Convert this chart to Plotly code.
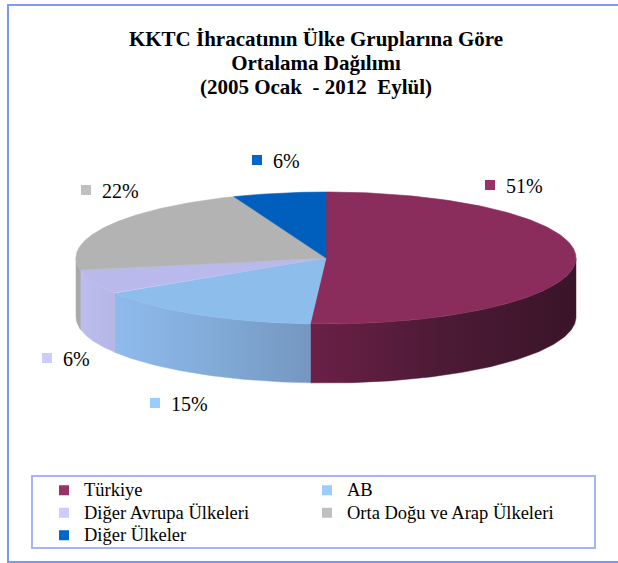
import numpy as np
import plotly.graph_objects as go

# ---------------- data ----------------
categories = ["Türkiye", "AB", "Diğer Avrupa Ülkeleri",
              "Orta Doğu ve Arap Ülkeleri", "Diğer Ülkeler"]
shares = [51, 15, 6, 22, 6]
label_texts = ["51%", "15%", "6%", "22%", "6%"]

# ---------------- style ----------------
key_colors = ["#993366", "#99ccff", "#ccccff", "#c0c0c0", "#0066cc"]
top_colors = ["#8b2d5c", "#8dbdeb", "#b9b9ec", "#b3b3b3", "#005ebd"]
side_colors = [["#6b2047", "#4c1a35", "#3a1429"],
               ["#8ebbec", "#82abd8", "#7497c0"],
               ["#bdbdee", "#babaea", "#b6b6e6"],
               ["#a9a9a9", "#a9a9a9", "#a9a9a9"],
               ["#004a99", "#004a99", "#004a99"]]
# label key positions (pixel space)
label_pos = [(490, 185), (155, 403), (47, 358), (86, 190), (257, 160)]

CX, CY, A, B, DEPTH = 326, 258, 250, 66, 59
W, H = 618, 563
SERIF = "Liberation Serif"


def ell(t_deg, dy=0.0):
    t = np.radians(t_deg)
    return CX + A * np.cos(t), CY - B * np.sin(t) + dy


total = float(sum(shares))
fig = go.Figure()

# legend entries
for cat, col in zip(categories, key_colors):
    fig.add_trace(go.Scatter(x=[None], y=[None], mode="markers",
                             name="<span style='font-size:18.5px'>" + cat + "</span>",
                             marker=dict(symbol="square", size=10, color=col),
                             hoverinfo="skip"))

# slice angles (start at 12 o'clock, clockwise)
angles = []
cum = 0.0
for v in shares:
    t0 = 90 - 360 * cum / total
    t1 = 90 - 360 * (cum + v) / total
    angles.append((t0, t1))
    cum += v

# side faces (front half only)
for i, (t0, t1) in enumerate(angles):
    s0, s1 = min(t0, 0.0), max(t1, -180.0)
    if s0 <= s1:
        continue
    ts = np.linspace(s0, s1, 120)
    xt, yt = ell(ts)
    xb, yb = ell(ts[::-1], DEPTH)
    xs = np.concatenate([xt, xb, xt[:1]])
    ys = np.concatenate([yt, yb, yt[:1]])
    cs = side_colors[i]
    fig.add_trace(go.Scatter(
        x=xs, y=ys, mode="lines", fill="toself",
        line=dict(width=0.5, color=cs[1]),
        fillgradient=dict(type="horizontal",
                          colorscale=[[0, cs[0]], [0.5, cs[1]], [1, cs[2]]]),
        showlegend=False, hoverinfo="skip"))

# top faces
for i, (t0, t1) in enumerate(angles):
    ts = np.linspace(t0, t1, 200)
    xa, ya = ell(ts)
    xs = np.concatenate([[CX], xa, [CX]])
    ys = np.concatenate([[CY], ya, [CY]])
    fig.add_trace(go.Scatter(
        x=xs, y=ys, mode="lines", fill="toself", fillcolor=top_colors[i],
        line=dict(width=0.6, color=top_colors[i]),
        name=categories[i], showlegend=False,
        hovertemplate=categories[i] + ": %{text}<extra></extra>",
        text=[label_texts[i]] * len(xs)))

# data label keys
fig.add_trace(go.Scatter(
    x=[p[0] for p in label_pos], y=[p[1] for p in label_pos], mode="markers",
    marker=dict(symbol="square", size=10, color=key_colors),
    showlegend=False, hoverinfo="skip"))

for (px, py), txt in zip(label_pos, label_texts):
    fig.add_annotation(x=px + 14, y=py + 1, xref="x", yref="y", text=txt,
                       showarrow=False, xanchor="left", yanchor="middle",
                       font=dict(family=SERIF, size=20, color="#000000"))

shapes = [
    dict(type="rect", xref="x", yref="y", x0=8, y0=5, x1=640, y1=562,
         line=dict(color="#7f97f7", width=2), layer="below"),
    dict(type="rect", xref="x", yref="y", x0=32, y0=476, x1=595, y1=548,
         line=dict(color="#a4b4f4", width=2), layer="below"),
]

fig.update_layout(
    width=W, height=H,
    margin=dict(l=0, r=0, t=0, b=0),
    paper_bgcolor="white", plot_bgcolor="white",
    font=dict(family=SERIF, color="#000000"),
    xaxis=dict(range=[0, W], visible=False, fixedrange=True),
    yaxis=dict(range=[H, 0], visible=False, fixedrange=True),
    shapes=shapes,
    title=dict(
        text="<span style='font-size:21px'><b>KKTC İhracatının Ülke Gruplarına Göre"
             "<br>Ortalama Dağılımı"
             "<br>(2005 Ocak&nbsp; - 2012&nbsp; Eylül)</b></span>",
        x=316 / W, xanchor="center", y=1 - 46 / H, yanchor="top",
        font=dict(family=SERIF, size=18.5, color="#000000")),
    legend=dict(orientation="h", entrywidth=218, entrywidthmode="pixels",
                x=44 / W, xanchor="left", y=1 - 474 / H, yanchor="top",
                font=dict(family=SERIF, size=15, color="#000000"),
                bgcolor="rgba(0,0,0,0)", traceorder="normal"),
    showlegend=True,
)

fig.write_html("out.html", config={"displayModeBar": False},
               post_script="document.body.style.margin='0';")
